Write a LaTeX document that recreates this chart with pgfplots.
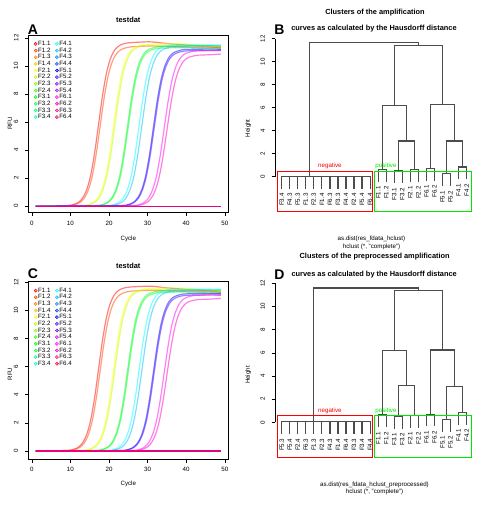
\documentclass[border=0pt]{standalone}
\usepackage{fontspec}
\setmainfont{Liberation Sans}
\usepackage{pgfplots}
\pgfplotsset{compat=1.18}
\definecolor{c0}{HTML}{FF0000}\definecolor{c1}{HTML}{FF4000}\definecolor{c2}{HTML}{FF8000}\definecolor{c3}{HTML}{FFBF00}
\definecolor{c4}{HTML}{FFFF00}\definecolor{c5}{HTML}{BFFF00}\definecolor{c6}{HTML}{80FF00}\definecolor{c7}{HTML}{40FF00}
\definecolor{c8}{HTML}{00FF00}\definecolor{c9}{HTML}{00FF40}\definecolor{c10}{HTML}{00FF80}\definecolor{c11}{HTML}{00FFBF}
\definecolor{c12}{HTML}{00FFFF}\definecolor{c13}{HTML}{00BFFF}\definecolor{c14}{HTML}{0080FF}\definecolor{c15}{HTML}{0040FF}
\definecolor{c16}{HTML}{0000FF}\definecolor{c17}{HTML}{4000FF}\definecolor{c18}{HTML}{8000FF}\definecolor{c19}{HTML}{BF00FF}
\definecolor{c20}{HTML}{FF00FF}\definecolor{c21}{HTML}{FF00BF}\definecolor{c22}{HTML}{FF0080}\definecolor{c23}{HTML}{FF0040}
\definecolor{rbox}{HTML}{FF0000}\definecolor{gbox}{HTML}{00E600}
\newcommand\fsz{\fontsize{6.2}{7}\selectfont}
\newcommand\ftit{\fontsize{7.4}{8.5}\selectfont\bfseries}
\newcommand\fbig{\fontsize{14}{14}\selectfont\bfseries}
\pgfplotsset{
 cur/.style={color=#1, opacity=0.5, line width=1.2pt, smooth, no markers, forget plot},
 dend/.style={black!70, line width=1.2pt, no markers, forget plot},
 curvax/.style={scale only axis, width=200pt, height=177.3pt, xmin=-0.92, xmax=50.92,
   xtick={0,10,...,50}, ytick={0,2,...,12}, tick align=outside, xtick pos=left, ytick pos=left,
   major tick length=3.5pt, tick style={black, line width=0.5pt}, axis line style={black, line width=0.6pt},
   ticklabel style={font=\fsz}, xticklabel style={yshift=-1.5pt},
   yticklabel style={xshift=-3pt, rotate=90, anchor=south},
   /pgf/number format/assume math mode=true,
   legend columns=2, legend cell align=left,
   legend style={at={(0.012,0.982)}, anchor=north west, draw=none, fill=none, font=\fsz,
     row sep=-0.35pt, nodes={inner sep=0.6pt, text height=4.6pt, text depth=1.2pt},
     /tikz/every even column/.append style={column sep=4pt}}},
 dendax/.style={scale only axis, width=196.9pt, xmin=-0.83, xmax=23.66, ymin=0, ymax=12,
   axis x line=none, axis y line=left, axis line style={-, black, line width=0.6pt},
   ytick={0,2,...,12}, tick align=outside, major tick length=3.5pt, tick style={black, line width=0.5pt},
   yticklabel style={font=\fsz, xshift=-3pt, rotate=90, anchor=south},
   /pgf/number format/assume math mode=true, clip=false}
}
\newcommand\leaf[3]{\node[rotate=90, anchor=east, font=\fsz, inner sep=1pt] at (axis cs:#1,#2) {#3};}
\newcommand\leg[2]{\addlegendimage{legend image code/.code={\fill[#1, fill opacity=0.5] (1.7pt,0pt) circle (1.6pt);}}\addlegendentry{#2}}
\newcommand\drawcurves{%
\addplot[cur=c0] coordinates {(1,0)(5,0.01)(9.3,0.04)(10.3,0.08)(11.3,0.16)(12.3,0.32)(13.3,0.64)(14.3,1.23)(15.3,2.26)(16.3,3.85)(17.3,5.85)(18.3,7.85)(19.3,9.44)(20.3,10.47)(21.3,11.07)(22.3,11.38)(23.3,11.54)(24.3,11.62)(25.3,11.66)(28,11.7)(31,11.72)(35,11.6)(40,11.5)(45,11.4)(49,11.3)};
\addplot[cur=c1] coordinates {(1,0)(5,0.01)(9.7,0.04)(10.7,0.08)(11.7,0.16)(12.7,0.31)(13.7,0.62)(14.7,1.20)(15.7,2.20)(16.7,3.75)(17.7,5.70)(18.7,7.65)(19.7,9.20)(20.7,10.20)(21.7,10.78)(22.7,11.09)(23.7,11.24)(24.7,11.32)(25.7,11.37)(30,11.42)(35,11.4)(40,11.35)(49,11.3)};
\addplot[cur=c2] coordinates {(1,0)(49,0)};
\addplot[cur=c3] coordinates {(1,0)(49,0)};
\addplot[cur=c4] coordinates {(1,0)(8,0.01)(13.2,0.04)(14.2,0.08)(15.2,0.16)(16.2,0.32)(17.2,0.63)(18.2,1.21)(19.2,2.23)(20.2,3.80)(21.2,5.78)(22.2,7.75)(23.2,9.32)(24.2,10.34)(25.2,10.93)(26.2,11.24)(27.2,11.39)(28.2,11.47)(29.2,11.52)(33,11.58)(38,11.6)(43,11.5)(49,11.4)};
\addplot[cur=c5] coordinates {(1,0)(8,0.01)(13.5,0.04)(14.5,0.08)(15.5,0.16)(16.5,0.32)(17.5,0.62)(18.5,1.21)(19.5,2.22)(20.5,3.78)(21.5,5.75)(22.5,7.72)(23.5,9.28)(24.5,10.29)(25.5,10.88)(26.5,11.19)(27.5,11.34)(28.5,11.42)(29.5,11.47)(35,11.5)(42,11.45)(49,11.35)};
\addplot[cur=c6] coordinates {(1,0)(49,0)};
\addplot[cur=c7] coordinates {(1,0)(49,0)};
\addplot[cur=c8] coordinates {(1,0)(10,0.01)(16.8,0.04)(17.8,0.08)(18.8,0.16)(19.8,0.31)(20.8,0.62)(21.8,1.20)(22.8,2.20)(23.8,3.75)(24.8,5.70)(25.8,7.65)(26.8,9.20)(27.8,10.20)(28.8,10.78)(29.8,11.09)(30.8,11.24)(31.8,11.32)(32.8,11.37)(38,11.42)(44,11.45)(49,11.4)};
\addplot[cur=c9] coordinates {(1,0)(10,0.01)(17,0.04)(18,0.08)(19,0.15)(20,0.31)(21,0.61)(22,1.19)(23,2.18)(24,3.72)(25,5.65)(26,7.58)(27,9.12)(28,10.11)(29,10.69)(30,11.00)(31,11.14)(32,11.22)(33,11.27)(40,11.3)(49,11.2)};
\addplot[cur=c10] coordinates {(1,0)(49,0)};
\addplot[cur=c11] coordinates {(1,0)(49,0)};
\addplot[cur=c12] coordinates {(1,0)(12,0.01)(19.8,0.04)(20.8,0.08)(21.8,0.16)(22.8,0.32)(23.8,0.62)(24.8,1.21)(25.8,2.22)(26.8,3.78)(27.8,5.75)(28.8,7.72)(29.8,9.28)(30.8,10.29)(31.8,10.88)(32.8,11.19)(33.8,11.34)(34.8,11.42)(35.8,11.47)(42,11.5)(49,11.5)};
\addplot[cur=c13] coordinates {(1,0)(12,0.01)(20.5,0.04)(21.5,0.08)(22.5,0.16)(23.5,0.31)(24.5,0.62)(25.5,1.20)(26.5,2.20)(27.5,3.75)(28.5,5.70)(29.5,7.65)(30.5,9.20)(31.5,10.20)(32.5,10.78)(33.5,11.09)(34.5,11.24)(35.5,11.32)(36.5,11.37)(42,11.42)(49,11.45)};
\addplot[cur=c14] coordinates {(1,0)(49,0)};
\addplot[cur=c15] coordinates {(1,0)(49,0)};
\addplot[cur=c16] coordinates {(1,0)(15,0.01)(23.5,0.04)(24.5,0.08)(25.5,0.15)(26.5,0.31)(27.5,0.61)(28.5,1.18)(29.5,2.16)(30.5,3.68)(31.5,5.60)(32.5,7.52)(33.5,9.04)(34.5,10.02)(35.5,10.60)(36.5,10.90)(37.5,11.04)(38.5,11.12)(39.5,11.17)(44,11.2)(49,11.2)};
\addplot[cur=c17] coordinates {(1,0)(15,0.01)(23.7,0.04)(24.7,0.07)(25.7,0.15)(26.7,0.30)(27.7,0.60)(28.7,1.17)(29.7,2.14)(30.7,3.65)(31.7,5.55)(32.7,7.45)(33.7,8.96)(34.7,9.93)(35.7,10.50)(36.7,10.80)(37.7,10.94)(38.7,11.02)(39.7,11.07)(44,11.1)(49,11.1)};
\addplot[cur=c18] coordinates {(1,0)(49,0)};
\addplot[cur=c19] coordinates {(1,0)(49,0)};
\addplot[cur=c20] coordinates {(1,0)(18,0.01)(26.3,0.04)(27.3,0.07)(28.3,0.15)(29.3,0.30)(30.3,0.60)(31.3,1.17)(32.3,2.14)(33.3,3.65)(34.3,5.55)(35.3,7.45)(36.3,8.96)(37.3,9.93)(38.3,10.50)(39.3,10.80)(40.3,10.94)(41.3,11.02)(42.3,11.07)(46,11.1)(49,11.1)};
\addplot[cur=c21] coordinates {(1,0)(18,0.01)(27,0.04)(28,0.07)(29,0.15)(30,0.30)(31,0.59)(32,1.13)(33,2.08)(34,3.55)(35,5.40)(36,7.25)(37,8.72)(38,9.67)(39,10.22)(40,10.51)(41,10.65)(42,10.72)(43,10.77)(46,10.8)(49,10.85)};
\addplot[cur=c22] coordinates {(1,0)(49,0)};
\addplot[cur=c23] coordinates {(1,0)(49,0)};
\leg{c0}{F1.1}\leg{c12}{F4.1}\leg{c1}{F1.2}\leg{c13}{F4.2}\leg{c2}{F1.3}\leg{c14}{F4.3}
\leg{c3}{F1.4}\leg{c15}{F4.4}\leg{c4}{F2.1}\leg{c16}{F5.1}\leg{c5}{F2.2}\leg{c17}{F5.2}
\leg{c6}{F2.3}\leg{c18}{F5.3}\leg{c7}{F2.4}\leg{c19}{F5.4}\leg{c8}{F3.1}\leg{c20}{F6.1}
\leg{c9}{F3.2}\leg{c21}{F6.2}\leg{c10}{F3.3}\leg{c22}{F6.3}\leg{c11}{F3.4}\leg{c23}{F6.4}
}
\newcommand\negleaves[1]{%
\addplot[dend] coordinates {(0,-1.05)(0,#1)(11,#1)(11,-1.05)};
\addplot[dend] coordinates {(1,#1)(1,-1.05)};\addplot[dend] coordinates {(2,#1)(2,-1.05)};
\addplot[dend] coordinates {(3,#1)(3,-1.05)};\addplot[dend] coordinates {(4,#1)(4,-1.05)};
\addplot[dend] coordinates {(5,#1)(5,-1.05)};\addplot[dend] coordinates {(6,#1)(6,-1.05)};
\addplot[dend] coordinates {(7,#1)(7,-1.05)};\addplot[dend] coordinates {(8,#1)(8,-1.05)};
\addplot[dend] coordinates {(9,#1)(9,-1.05)};\addplot[dend] coordinates {(10,#1)(10,-1.05)};
}
\newcommand\posleaves{%
\leaf{12}{-0.75}{F1.1}\leaf{13}{-0.75}{F1.2}\leaf{14}{-0.85}{F3.1}\leaf{15}{-0.85}{F3.2}
\leaf{16}{-0.75}{F2.1}\leaf{17}{-0.75}{F2.2}\leaf{18}{-0.65}{F6.1}\leaf{19}{-0.65}{F6.2}
\leaf{20}{-1.1}{F5.1}\leaf{21}{-1.1}{F5.2}\leaf{22}{-0.5}{F4.1}\leaf{23}{-0.5}{F4.2}
}
\begin{document}
\begin{tikzpicture}
\path[use as bounding box] (0pt,0pt) rectangle (482pt,-507pt);
% ---------- A ----------
\begin{axis}[curvax, at={(28.3pt,-212.3pt)}, anchor=south west, ymin=-0.44, ymax=12.21]
\drawcurves
\end{axis}
\node[font=\ftit] at (128.3pt,-20pt) {testdat};
\node[font=\fbig] at (33pt,-30pt) {A};
\node[font=\fsz] at (128.3pt,-239pt) {Cycle};
\node[font=\fsz, rotate=90] at (10pt,-123.5pt) {RFU};
% ---------- C ----------
\begin{axis}[curvax, at={(28.3pt,-459pt)}, anchor=south west, ymin=-0.57, ymax=12.04]
\drawcurves
\end{axis}
\node[font=\ftit] at (128.3pt,-266pt) {testdat};
\node[font=\fbig] at (33pt,-274pt) {C};
\node[font=\fsz] at (128.3pt,-484.3pt) {Cycle};
\node[font=\fsz, rotate=90] at (10pt,-374pt) {RFU};
% ---------- B ----------
\begin{axis}[dendax, at={(275pt,-176.7pt)}, anchor=south west, height=138pt]
\negleaves{0}
\addplot[dend] coordinates {(3.5,0)(3.5,11.7)(17,11.7)(17,11.4)};
\addplot[dend] coordinates {(14,6.2)(14,11.4)(20,11.4)(20,6.3)};
\addplot[dend] coordinates {(12.5,0.6)(12.5,6.2)(15.5,6.2)(15.5,3.1)};
\addplot[dend] coordinates {(12,-0.45)(12,0.6)(13,0.6)(13,-0.45)};
\addplot[dend] coordinates {(14.5,0.5)(14.5,3.1)(16.5,3.1)(16.5,0.6)};
\addplot[dend] coordinates {(14,-0.55)(14,0.5)(15,0.5)(15,-0.55)};
\addplot[dend] coordinates {(16,-0.45)(16,0.6)(17,0.6)(17,-0.45)};
\addplot[dend] coordinates {(18.5,0.7)(18.5,6.3)(21.5,6.3)(21.5,3.1)};
\addplot[dend] coordinates {(18,-0.35)(18,0.7)(19,0.7)(19,-0.35)};
\addplot[dend] coordinates {(20.5,0.25)(20.5,3.1)(22.5,3.1)(22.5,0.85)};
\addplot[dend] coordinates {(20,-0.8)(20,0.25)(21,0.25)(21,-0.8)};
\addplot[dend] coordinates {(22,-0.2)(22,0.85)(23,0.85)(23,-0.2)};
\addplot[rbox, line width=0.8pt, no markers, forget plot] coordinates {(-0.55,0.43)(11.27,0.43)(11.27,-3.04)(-0.55,-3.04)(-0.55,0.43)};
\addplot[gbox, line width=0.8pt, no markers, forget plot] coordinates {(11.48,0.43)(23.63,0.43)(23.63,-3.04)(11.48,-3.04)(11.48,0.43)};
\leaf{0}{-1.35}{F3.4}\leaf{1}{-1.35}{F4.3}\leaf{2}{-1.35}{F5.3}\leaf{3}{-1.35}{F1.3}
\leaf{4}{-1.35}{F2.3}\leaf{5}{-1.35}{F1.4}\leaf{6}{-1.35}{F6.3}\leaf{7}{-1.35}{F3.3}
\leaf{8}{-1.35}{F4.4}\leaf{9}{-1.35}{F2.4}\leaf{10}{-1.35}{F5.4}\leaf{11}{-1.35}{F6.4}
\posleaves
\node[font=\fsz, text=rbox] at (axis cs:6,0.96) {negative};
\node[font=\fsz, text=gbox] at (axis cs:12.97,0.96) {positive};
\end{axis}
\node[font=\ftit] at (375pt,-13pt) {Clusters of the amplification};
\node[font=\ftit] at (374pt,-29pt) {curves as calculated by the Hausdorff distance};
\node[font=\fbig] at (279.5pt,-29.5pt) {B};
\node[font=\fsz, rotate=90] at (248.3pt,-128.3pt) {Height};
\node[font=\fsz] at (371.5pt,-239.3pt) {as.dist(res\_fdata\_hclust)};
\node[font=\fsz] at (371.5pt,-247.3pt) {hclust (*, "complete")};
% ---------- D ----------
\begin{axis}[dendax, at={(275pt,-422.3pt)}, anchor=south west, height=139pt]
\negleaves{0.05}
\addplot[dend] coordinates {(4,0.05)(4,11.6)(17,11.6)(17,11.4)};
\addplot[dend] coordinates {(14,6.2)(14,11.4)(20,11.4)(20,6.25)};
\addplot[dend] coordinates {(12.5,0.65)(12.5,6.2)(15.5,6.2)(15.5,3.15)};
\addplot[dend] coordinates {(12,-0.4)(12,0.65)(13,0.65)(13,-0.4)};
\addplot[dend] coordinates {(14.5,0.5)(14.5,3.15)(16.5,3.15)(16.5,0.6)};
\addplot[dend] coordinates {(14,-0.55)(14,0.5)(15,0.5)(15,-0.55)};
\addplot[dend] coordinates {(16,-0.45)(16,0.6)(17,0.6)(17,-0.45)};
\addplot[dend] coordinates {(18.5,0.7)(18.5,6.25)(21.5,6.25)(21.5,3.1)};
\addplot[dend] coordinates {(18,-0.35)(18,0.7)(19,0.7)(19,-0.35)};
\addplot[dend] coordinates {(20.5,0.25)(20.5,3.1)(22.5,3.1)(22.5,0.85)};
\addplot[dend] coordinates {(20,-0.8)(20,0.25)(21,0.25)(21,-0.8)};
\addplot[dend] coordinates {(22,-0.2)(22,0.85)(23,0.85)(23,-0.2)};
\addplot[rbox, line width=0.8pt, no markers, forget plot] coordinates {(-0.55,0.57)(11.32,0.57)(11.32,-3.02)(-0.55,-3.02)(-0.55,0.57)};
\addplot[gbox, line width=0.8pt, no markers, forget plot] coordinates {(11.48,0.57)(23.63,0.57)(23.63,-3.02)(11.48,-3.02)(11.48,0.57)};
\leaf{0}{-1.3}{F5.3}\leaf{1}{-1.3}{F5.4}\leaf{2}{-1.3}{F2.4}\leaf{3}{-1.3}{F6.3}
\leaf{4}{-1.3}{F1.3}\leaf{5}{-1.3}{F2.3}\leaf{6}{-1.3}{F4.3}\leaf{7}{-1.3}{F1.4}
\leaf{8}{-1.3}{F6.4}\leaf{9}{-1.3}{F3.3}\leaf{10}{-1.3}{F3.4}\leaf{11}{-1.3}{F4.4}
\posleaves
\node[font=\fsz, text=rbox] at (axis cs:6,1.0) {negative};
\node[font=\fsz, text=gbox] at (axis cs:12.97,1.0) {positive};
\end{axis}
\node[font=\ftit] at (374.7pt,-256.7pt) {Clusters of the preprocessed amplification};
\node[font=\ftit] at (374.2pt,-275pt) {curves as calculated by the Hausdorff distance};
\node[font=\fbig] at (279.5pt,-274.5pt) {D};
\node[font=\fsz, rotate=90] at (248.3pt,-375pt) {Height};
\node[font=\fsz] at (374.5pt,-485pt) {as.dist(res\_fdata\_hclust\_preprocessed)};
\node[font=\fsz] at (374.5pt,-492.3pt) {hclust (*, "complete")};
\end{tikzpicture}
\end{document}
